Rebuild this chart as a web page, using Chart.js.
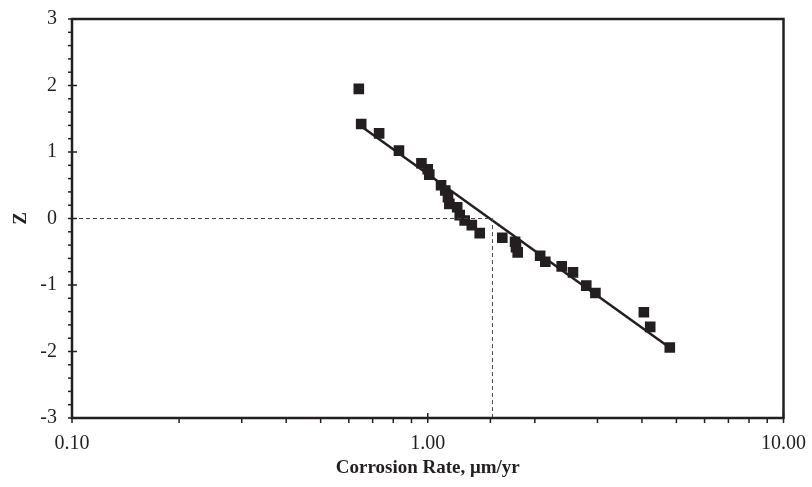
<!DOCTYPE html>
<html>
<head>
<meta charset="utf-8">
<script src="https://cdn.jsdelivr.net/npm/chart.js@4/dist/chart.umd.min.js"></script>
<style>
  html, body { margin: 0; padding: 0; background: #fff; }
  #wrap { width: 812px; height: 487px; }
</style>
</head>
<body>
<div id="wrap"><canvas id="chart" width="812" height="487"></canvas></div>
<script>
// Measured corrosion rates (um/yr) and normal scores Z
const rates = [0.64, 0.65, 0.73, 0.83, 0.96, 1.00, 1.01, 1.09, 1.12, 1.14, 1.15, 1.21, 1.23, 1.27, 1.33, 1.40,
               1.62, 1.76, 1.77, 1.79, 2.07, 2.14, 2.38, 2.56, 2.79, 2.96, 4.05, 4.22, 4.79];
const zScores = [1.95, 1.42, 1.28, 1.02, 0.83, 0.74, 0.66, 0.50, 0.42, 0.32, 0.22, 0.17, 0.05, -0.03, -0.10, -0.22,
                 -0.29, -0.35, -0.43, -0.51, -0.56, -0.65, -0.72, -0.81, -1.01, -1.12, -1.41, -1.63, -1.94];

// Fitted lognormal line (end points)
const fitRates = [0.66, 4.75];
const fitZ = [1.36, -1.93];

// Median marker (Z = 0)
const medianRate = 1.52;

// Axis ranges / tick labels
const xRange = [0.1, 10];
const yRange = [-3, 3];
const xMajorLabels = [0.1, 1, 10];

const BLACK = '#231f20';

const toPoints = (xs, ys) => xs.map((x, i) => ({ x: x, y: ys[i] }));

const isPow10 = v => Math.abs(Math.log10(v) - Math.round(Math.log10(v))) < 1e-9;
const isInt = v => Math.abs(v - Math.round(v)) < 1e-9;

// Frame and tick marks (major ticks cross the axis, minor ones sit outside)
const frameTicks = {
  id: 'frameTicks',
  afterDatasetsDraw(chart) {
    const { ctx, chartArea: a, scales } = chart;
    ctx.save();
    ctx.strokeStyle = BLACK;
    ctx.lineWidth = 1.5;
    scales.x.ticks.forEach(t => {
      const px = scales.x.getPixelForValue(t.value);
      const major = isPow10(t.value);
      ctx.beginPath();
      ctx.moveTo(px, a.bottom + 5);
      ctx.lineTo(px, major ? a.bottom - 5 : a.bottom);
      ctx.stroke();
    });
    scales.y.ticks.forEach(t => {
      const py = scales.y.getPixelForValue(t.value);
      const major = isInt(t.value);
      ctx.beginPath();
      ctx.moveTo(a.left - 4, py);
      ctx.lineTo(major ? a.left + 5 : a.left, py);
      ctx.stroke();
    });
    ctx.lineWidth = 2.5;
    ctx.strokeRect(a.left, a.top, a.right - a.left, a.bottom - a.top);
    ctx.restore();
  }
};

new Chart(document.getElementById('chart'), {
  type: 'scatter',
  data: {
    datasets: [
      {
        label: 'Median',
        type: 'line',
        data: [{ x: xRange[0], y: 0 }, { x: medianRate, y: 0 }, { x: medianRate, y: yRange[0] }],
        borderColor: '#444',
        borderWidth: 1,
        borderDash: [4, 3],
        pointRadius: 0,
        fill: false
      },
      {
        label: 'Fit',
        type: 'line',
        data: toPoints(fitRates, fitZ),
        borderColor: BLACK,
        borderWidth: 2.5,
        pointRadius: 0,
        fill: false
      },
      {
        label: 'Data',
        data: toPoints(rates, zScores),
        pointStyle: 'rect',
        pointRadius: 7.5,
        pointHoverRadius: 7.5,
        backgroundColor: BLACK,
        borderColor: BLACK,
        borderWidth: 0
      }
    ]
  },
  options: {
    responsive: false,
    animation: false,
    layout: { padding: { top: 7, right: 27, left: 0, bottom: 0 } },
    plugins: {
      legend: { display: false },
      tooltip: { enabled: false }
    },
    scales: {
      x: {
        type: 'logarithmic',
        min: xRange[0],
        max: xRange[1],
        border: { display: false },
        grid: { display: false },
        ticks: {
          autoSkip: false,
          maxRotation: 0,
          padding: 6,
          color: BLACK,
          font: { family: 'Liberation Serif', size: 20 },
          callback: function(value) {
            return xMajorLabels.some(m => Math.abs(m - value) < 1e-9) ? value.toFixed(2) : '';
          }
        },
        title: {
          display: true,
          text: 'Corrosion Rate, \u03bcm/yr',
          color: BLACK,
          font: { family: 'Liberation Serif', size: 19, weight: 'bold' },
          padding: { top: 4, bottom: 8 }
        },
        afterFit: function(scale) { scale.height = 69; }
      },
      y: {
        min: yRange[0],
        max: yRange[1],
        border: { display: false },
        grid: { display: false },
        ticks: {
          stepSize: 0.2,
          autoSkip: false,
          padding: 7,
          color: BLACK,
          font: { family: 'Liberation Serif', size: 20 },
          callback: function(value) {
            return isInt(value) ? Math.round(value).toString() : '';
          }
        },
        title: {
          display: true,
          text: 'Z',
          color: BLACK,
          font: { family: 'Liberation Serif', size: 19, weight: 'bold' },
          padding: { top: 10, bottom: 10 }
        },
        afterFit: function(scale) { scale.width = 72; }
      }
    }
  },
  plugins: [frameTicks]
});
</script>
</body>
</html>
